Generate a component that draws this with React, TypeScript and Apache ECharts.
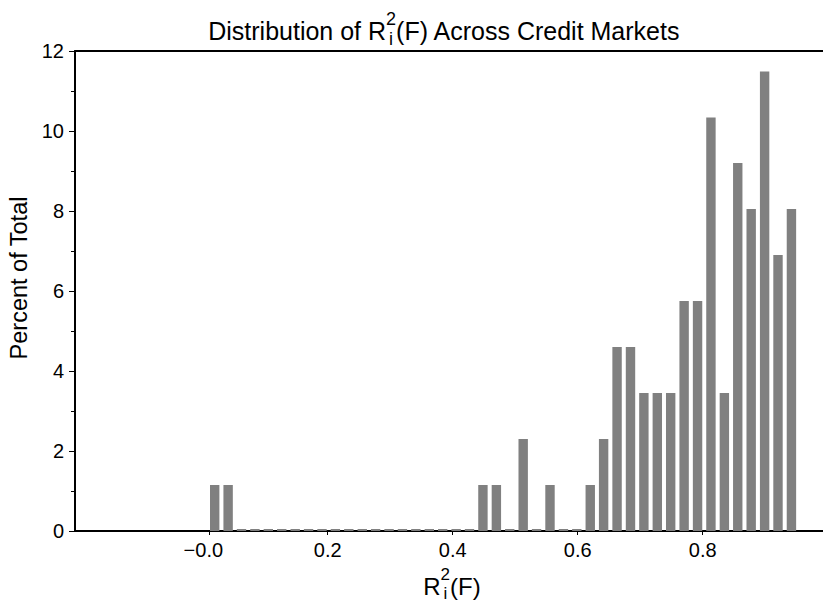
import React, { useEffect, useRef } from "react";
import * as echarts from "echarts";

// Histogram bin centres (R_i^2(F)) and heights (percent of total)
const binCenters = [
  0.0192, 0.0407, 0.0621, 0.0836, 0.105, 0.1265, 0.148, 0.1694, 0.1909, 0.2123,
  0.2338, 0.2553, 0.2767, 0.2982, 0.3196, 0.3411, 0.3626, 0.384, 0.4055, 0.4269,
  0.4484, 0.4699, 0.4913, 0.5128, 0.5342, 0.5557, 0.5772, 0.5986, 0.6201, 0.6415,
  0.663, 0.6845, 0.7059, 0.7274, 0.7488, 0.7703, 0.7918, 0.8132, 0.8347, 0.8561,
  0.8776, 0.8991, 0.9205, 0.942,
];
const percentOfTotal = [
  1.15, 1.15, 0, 0, 0, 0, 0, 0, 0, 0,
  0, 0, 0, 0, 0, 0, 0, 0, 0, 0,
  1.15, 1.15, 0, 2.3, 0, 1.15, 0, 0, 1.15, 2.3,
  4.6, 4.6, 3.45, 3.45, 3.45, 5.75, 5.75, 10.34, 3.45, 9.2,
  8.05, 11.49, 6.9, 8.05,
];
const xTickValues = [0.0106, 0.2, 0.4, 0.6, 0.8];
const xTickLabels = ["−0.0", "0.2", "0.4", "0.6", "0.8"];
const yMin = 0;
const yMax = 12;
const yInterval = 2;

const X_MIN = -0.2043;
const X_MAX = 0.9925;

const FONT = '"Liberation Sans", Arial, Helvetica, sans-serif';
const MID = 0.36; // distance from text middle to alphabetic baseline, in em

function measure(text: string, size: number): number {
  const ctx = document.createElement("canvas").getContext("2d");
  if (!ctx) return text.length * size * 0.55;
  ctx.font = `${size}px ${FONT}`;
  return ctx.measureText(text).width;
}

function textAt(text: string, x: number, baseline: number, size: number, align: string) {
  return {
    type: "text",
    x,
    y: baseline - size * MID,
    style: {
      text,
      fontSize: size,
      fontFamily: FONT,
      fill: "#000",
      textAlign: align,
      textVerticalAlign: "middle",
    },
  };
}

// Build "pre R^2_i post" with stacked super/subscript
function stackedText(
  pre: string,
  post: string,
  centerX: number,
  baseline: number,
  size: number,
  smallSize: number
) {
  const wPre = measure(pre, size);
  const wSmall = Math.max(measure("2", smallSize), measure("i", smallSize));
  const wPost = measure(post, size);
  const total = wPre + wSmall + wPost;
  const x0 = centerX - total / 2;
  return [
    textAt(pre, x0, baseline, size, "left"),
    textAt("2", x0 + wPre + wSmall / 2, baseline - size * 0.58, smallSize, "center"),
    textAt("i", x0 + wPre + wSmall / 2, baseline + size * 0.2, smallSize, "center"),
    textAt(post, x0 + wPre + wSmall, baseline, size, "left"),
  ];
}

export default function App() {
  const ref = useRef<HTMLDivElement>(null);

  useEffect(() => {
    if (!ref.current) return;
    const chart = echarts.init(ref.current, null, { renderer: "svg" });

    const labelFor = (v: number) => {
      let best = 0;
      let bd = Infinity;
      xTickValues.forEach((t, i) => {
        const d = Math.abs(t - v);
        if (d < bd) {
          bd = d;
          best = i;
        }
      });
      return best === 0 ? `{neg|${xTickLabels[best]}}` : xTickLabels[best];
    };

    const option: any = {
      animation: false,
      grid: { left: 75, right: 0, top: 51, bottom: 75, containLabel: false },
      xAxis: [
        {
          type: "value",
          min: X_MIN,
          max: X_MAX,
          position: "bottom",
          axisLine: { show: true, onZero: false, lineStyle: { color: "#000", width: 2 } },
          axisTick: { show: true, length: 4, customValues: xTickValues, lineStyle: { color: "#000", width: 1 } },
          axisLabel: {
            show: true,
            customValues: xTickValues,
            formatter: labelFor,
            margin: 9,
            color: "#000",
            fontSize: 20,
            fontFamily: FONT,
            rich: {
              neg: { fontSize: 20, fontFamily: FONT, color: "#000", padding: [0, 12, 0, 0] },
            },
          },
          splitLine: { show: false },
        },
        {
          type: "value",
          min: X_MIN,
          max: X_MAX,
          position: "top",
          axisLine: { show: true, onZero: false, lineStyle: { color: "#000", width: 2 } },
          axisTick: { show: false },
          axisLabel: { show: false },
          splitLine: { show: false },
        },
      ],
      yAxis: {
        type: "value",
        min: yMin,
        max: yMax,
        interval: yInterval,
        axisLine: { show: true, onZero: false, lineStyle: { color: "#000", width: 2 } },
        axisTick: { show: true, length: 6, lineStyle: { color: "#000", width: 1 } },
        minorTick: { show: true, splitNumber: 2, length: 4, lineStyle: { color: "#000", width: 1 } },
        axisLabel: { margin: 11, color: "#000", fontSize: 20, fontFamily: FONT },
        splitLine: { show: false },
        minorSplitLine: { show: false },
      },
      series: [
        {
          type: "bar",
          xAxisIndex: 0,
          data: binCenters.map((x, i) => [x, percentOfTotal[i]]),
          barWidth: 9.4,
          barMinHeight: 2,
          itemStyle: { color: "#808080" },
        },
      ],
      graphic: [
        ...stackedText("Distribution of R", "(F) Across Credit Markets", 444.5, 40, 25, 18),
        ...stackedText("R", "(F)", 452, 595, 24, 17),
        {
          type: "text",
          x: 19,
          y: 278,
          rotation: Math.PI / 2,
          style: {
            text: "Percent of Total",
            fontSize: 23.5,
            fontFamily: FONT,
            fill: "#000",
            textAlign: "center",
            textVerticalAlign: "middle",
          },
        },
      ],
    };

    chart.setOption(option);
    return () => chart.dispose();
  }, []);

  return (
    <div
      ref={ref}
      style={{ position: "absolute", left: 0, top: 0, width: 823, height: 606 }}
    />
  );
}
